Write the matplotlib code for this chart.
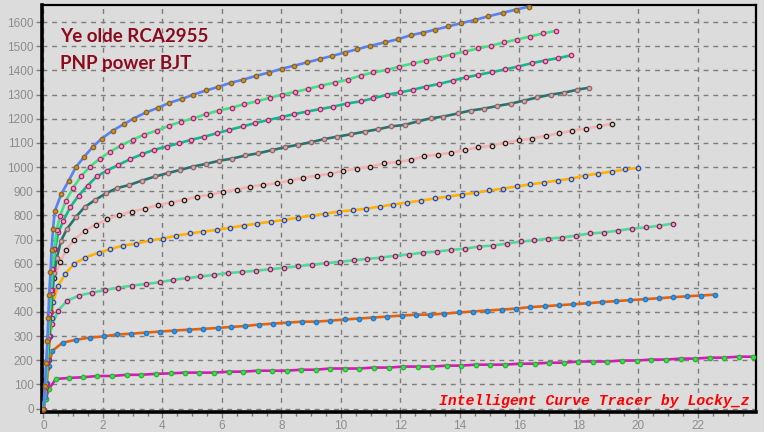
import matplotlib
matplotlib.use("Agg")
import matplotlib.pyplot as plt
from matplotlib.ticker import MultipleLocator

# ---- data ----
x1 = [0, 0.05, 0.09, 0.13, 0.16, 0.19, 0.235, 0.27, 0.32, 0.38, 0.6, 0.85, 1.09, 1.37, 1.66, 1.96, 2.33, 2.69, 3.03, 3.44, 3.84, 4.23, 4.65, 5.04, 5.46, 5.88, 6.29, 6.72, 7.15, 7.57, 8.01, 8.43, 8.85, 9.28, 9.7, 10.12, 10.55, 10.98, 11.47, 11.9, 12.35, 12.77, 13.17, 13.6, 14.05, 14.5, 14.95, 15.45, 15.88, 16.31]
y1 = [0, 95, 190, 280, 375, 470, 565, 657, 744, 818, 889, 944, 1000, 1043, 1084, 1118, 1151, 1177, 1201, 1226, 1245, 1266, 1282, 1300, 1317, 1332, 1349, 1362, 1378, 1391, 1407, 1420, 1433, 1447, 1460, 1474, 1488, 1502, 1516, 1529, 1546, 1557, 1569, 1582, 1596, 1609, 1624, 1639, 1652, 1664]

x2 = [0, 0.07, 0.12, 0.16, 0.2, 0.25, 0.3, 0.36, 0.44, 0.56, 0.75, 1.0, 1.26, 1.56, 1.9, 2.23, 2.6, 3.0, 3.38, 3.81, 4.22, 4.63, 5.04, 5.46, 5.89, 6.33, 6.74, 7.17, 7.61, 8.03, 8.46, 8.9, 9.33, 9.8, 10.23, 10.67, 11.09, 11.54, 11.96, 12.41, 12.86, 13.29, 13.72, 14.17, 14.6, 15.03, 15.48, 15.91, 16.34, 16.78, 17.22]
y2 = [0, 90, 190, 290, 390, 490, 580, 660, 740, 799, 860, 915, 961, 1002, 1035, 1063, 1089, 1113, 1134, 1151, 1171, 1188, 1202, 1219, 1234, 1246, 1260, 1272, 1287, 1300, 1311, 1324, 1337, 1350, 1362, 1379, 1392, 1402, 1416, 1429, 1441, 1453, 1466, 1478, 1491, 1502, 1516, 1528, 1540, 1553, 1564]

x3 = [0, 0.08, 0.13, 0.18, 0.22, 0.27, 0.32, 0.39, 0.5, 0.67, 0.9, 1.18, 1.48, 1.79, 2.13, 2.52, 2.9, 3.31, 3.7, 4.15, 4.56, 4.97, 5.41, 5.83, 6.25, 6.69, 7.11, 7.56, 8.01, 8.42, 8.87, 9.3, 9.74, 10.19, 10.67, 11.09, 11.54, 11.99, 12.41, 12.85, 13.29, 13.76, 14.19, 14.62, 15.07, 15.5, 15.95, 16.41, 16.85, 17.29, 17.72]
y3 = [0, 100, 200, 300, 400, 490, 580, 660, 730, 778, 834, 882, 923, 961, 985, 1009, 1032, 1053, 1071, 1085, 1099, 1113, 1126, 1140, 1154, 1168, 1182, 1195, 1207, 1219, 1230, 1240, 1250, 1263, 1272, 1285, 1299, 1309, 1320, 1333, 1344, 1358, 1371, 1382, 1393, 1404, 1416, 1430, 1441, 1451, 1462]

x4 = [0, 0.09, 0.15, 0.2, 0.26, 0.3, 0.36, 0.45, 0.59, 0.79, 1.1, 1.38, 1.74, 2.11, 2.47, 2.89, 3.31, 3.75, 4.18, 4.59, 5.02, 5.46, 5.9, 6.34, 6.79, 7.22, 7.67, 8.12, 8.55, 8.99, 9.44, 9.88, 10.34, 10.81, 11.26, 11.67, 12.15, 12.58, 13.02, 13.44, 13.93, 14.36, 14.81, 15.26, 15.72, 16.15, 16.59, 17.05, 17.5, 17.94, 18.35]
y4 = [0, 100, 200, 300, 400, 480, 560, 625, 695, 744, 795, 834, 864, 892, 913, 926, 944, 961, 975, 988, 1002, 1013, 1026, 1035, 1048, 1057, 1070, 1082, 1092, 1103, 1116, 1126, 1136, 1147, 1157, 1168, 1175, 1189, 1202, 1209, 1222, 1234, 1242, 1253, 1263, 1275, 1288, 1300, 1308, 1320, 1329]

x5 = [0, 0.08, 0.14, 0.19, 0.23, 0.28, 0.36, 0.56, 0.76, 1.03, 1.4, 1.76, 2.13, 2.55, 2.97, 3.42, 3.84, 4.28, 4.73, 5.15, 5.6, 6.03, 6.5, 6.95, 7.37, 7.84, 8.29, 8.72, 9.19, 9.63, 10.08, 10.53, 10.98, 11.45, 11.93, 12.36, 12.79, 13.26, 13.7, 14.17, 14.6, 15.07, 15.51, 15.97, 16.42, 16.88, 17.33, 17.77, 18.23, 18.66, 19.11]
y5 = [0, 100, 200, 300, 400, 480, 540, 605, 657, 699, 737, 761, 784, 802, 816, 827, 843, 853, 864, 878, 885, 897, 907, 919, 926, 933, 944, 955, 965, 972, 984, 994, 1002, 1015, 1022, 1030, 1044, 1052, 1059, 1071, 1081, 1089, 1101, 1110, 1118, 1130, 1139, 1151, 1159, 1168, 1180]

x6 = [0, 0.1, 0.17, 0.22, 0.27, 0.33, 0.49, 0.73, 1.03, 1.4, 1.85, 2.24, 2.67, 3.11, 3.59, 4.01, 4.46, 4.93, 5.36, 5.83, 6.27, 6.74, 7.17, 7.64, 8.1, 8.55, 9.02, 9.47, 9.93, 10.4, 10.83, 11.31, 11.74, 12.21, 12.68, 13.16, 13.6, 14.06, 14.54, 14.98, 15.45, 15.91, 16.35, 16.81, 17.28, 17.72, 18.2, 18.63, 19.1, 19.55, 19.99]
y6 = [0, 100, 200, 300, 375, 443, 508, 558, 599, 625, 646, 660, 675, 683, 696, 704, 716, 725, 733, 740, 749, 758, 766, 774, 781, 791, 799, 807, 816, 821, 828, 836, 845, 853, 861, 870, 878, 886, 894, 903, 911, 920, 928, 936, 944, 952, 965, 973, 981, 990, 997]

x7 = [0, 0.06, 0.12, 0.2, 0.3, 0.49, 0.8, 1.19, 1.63, 2.07, 2.52, 2.97, 3.44, 3.9, 4.35, 4.82, 5.27, 5.74, 6.2, 6.68, 7.15, 7.62, 8.09, 8.56, 9.03, 9.5, 9.97, 10.44, 10.87, 11.34, 11.81, 12.28, 12.75, 13.22, 13.69, 14.16, 14.63, 15.1, 15.57, 16.04, 16.48, 16.95, 17.42, 17.89, 18.36, 18.83, 19.3, 19.77, 20.24, 20.69, 21.15]
y7 = [0, 80, 170, 298, 349, 406, 447, 468, 480, 491, 501, 509, 516, 523, 533, 540, 547, 554, 561, 566, 571, 577, 583, 590, 596, 602, 608, 614, 620, 625, 633, 638, 646, 650, 657, 662, 671, 675, 683, 692, 696, 704, 708, 716, 725, 729, 737, 745, 750, 757, 766]

x8 = [0, 0.05, 0.11, 0.17, 0.3, 0.64, 1.09, 1.56, 2.02, 2.47, 2.95, 3.44, 3.92, 4.39, 4.89, 5.36, 5.85, 6.3, 6.78, 7.25, 7.73, 8.21, 8.68, 9.15, 9.62, 10.13, 10.6, 11.07, 11.54, 12.04, 12.51, 12.98, 13.45, 13.96, 14.43, 14.9, 15.4, 15.87, 16.34, 16.85, 17.32, 17.79, 18.29, 18.76, 19.23, 19.7, 20.21, 20.68, 21.15, 21.62, 22.09, 22.56]
y8 = [0, 50, 105, 175, 239, 273, 285, 294, 299, 307, 310, 315, 319, 323, 327, 330, 334, 338, 342, 348, 352, 356, 360, 360, 364, 369, 373, 377, 381, 385, 389, 389, 393, 398, 402, 406, 410, 414, 420, 424, 428, 432, 436, 441, 445, 449, 453, 457, 461, 465, 468, 472]

x9 = [0, 0.08, 0.17, 0.42, 0.87, 1.34, 1.81, 2.3, 2.8, 3.27, 3.78, 4.28, 4.76, 5.24, 5.74, 6.23, 6.72, 7.2, 7.67, 8.18, 8.65, 9.15, 9.62, 10.13, 10.6, 11.1, 11.61, 12.08, 12.58, 13.05, 13.56, 14.03, 14.53, 15.0, 15.51, 16.01, 16.51, 16.98, 17.49, 17.96, 18.46, 18.93, 19.44, 19.94, 20.41, 20.91, 21.42, 21.89, 22.39, 22.86, 23.37, 23.84]
y9 = [0, 40, 80, 123, 127, 130, 135, 135, 140, 140, 144, 146, 149, 149, 149, 153, 153, 157, 157, 157, 161, 161, 166, 166, 166, 170, 170, 174, 174, 174, 178, 178, 182, 182, 182, 186, 186, 190, 190, 195, 195, 195, 199, 199, 203, 203, 207, 207, 211, 211, 215, 215]

x_ticks = [0, 2, 4, 6, 8, 10, 12, 14, 16, 18, 20, 22]
y_ticks = [0, 100, 200, 300, 400, 500, 600, 700, 800, 900, 1000, 1100, 1200, 1300, 1400, 1500, 1600]
title_lines = ["Ye olde RCA2955", "PNP power BJT"]
credit = "Intelligent Curve Tracer by Locky_z"

# (x, y, line colour, marker face, marker edge) drawn bottom curve first
series = [
    (x9, y9, "#d21cb4", "#3ee04a", "#22b830"),
    (x8, y8, "#e2620e", "#2898e4", "#2278c8"),
    (x7, y7, "#52d896", "#d8a8bc", "#902262"),
    (x6, y6, "#ffb000", "#f8c830", "#1448f0"),
    (x5, y5, "#f4b2ae", "#f2c4c0", "#1e1e1e"),
    (x4, y4, "#2a7272", "#e0a0a0", "#8a6a6a"),
    (x3, y3, "#10b98a", "#e8a0c4", "#b8206c"),
    (x2, y2, "#3ee27e", "#e8a0c4", "#b8206c"),
    (x1, y1, "#5682f2", "#cc8e24", "#8a6422"),
]

BG = "#dcdcdc"
fig = plt.figure(figsize=(7.64, 4.32), dpi=100, facecolor=BG)
ax = fig.add_axes([42 / 764, 20 / 432, (756 - 42) / 764, (427.5 - 20) / 432])
ax.set_facecolor(BG)

for xs, ys, lc, mf, me in series:
    ax.plot(xs, ys, color=lc, lw=1.9, marker="o", ms=3.2, mfc=mf, mec=me,
            mew=0.9, solid_capstyle="round", zorder=3)

ax.set_xlim(-0.05, 23.95)
ax.set_ylim(-14, 1673)
ax.set_xticks(x_ticks)
ax.set_yticks(y_ticks)
ax.xaxis.set_minor_locator(MultipleLocator(0.5))
ax.grid(True, which="major", color="#7c7c7c", ls=(0, (3.5, 3.5)), lw=1.0, zorder=1)

for s in ("left", "bottom"):
    ax.spines[s].set_linewidth(2.6)
for s in ("top", "right"):
    ax.spines[s].set_linewidth(1.6)
for s in ax.spines.values():
    s.set_color("black")

ax.tick_params(axis="both", which="major", direction="out", length=4,
               width=1, color="#7c7c7c", labelcolor="#8c8c8c", labelsize=8.5)
ax.tick_params(axis="x", which="minor", direction="out", length=3,
               width=1, color="#7c7c7c")
for lab in ax.get_xticklabels() + ax.get_yticklabels():
    lab.set_fontfamily("Liberation Sans")
ax.tick_params(axis="y", pad=2)
ax.tick_params(axis="x", pad=2)

fig.text(60 / 764, 1 - 42 / 432, title_lines[0], color="#8a0a1e",
         fontsize=13.5, fontweight="bold", family="Lato", va="baseline")
fig.text(60 / 764, 1 - 69 / 432, title_lines[1], color="#8a0a1e",
         fontsize=13.5, fontweight="bold", family="Lato", va="baseline")

fig.text(750 / 764, 1 - 405 / 432, credit, color="#ff0000", fontsize=10.6,
         family="Liberation Mono", fontweight="bold", fontstyle="italic",
         ha="right", va="baseline", zorder=5)

fig.savefig("out.png", dpi=100, facecolor=BG)
